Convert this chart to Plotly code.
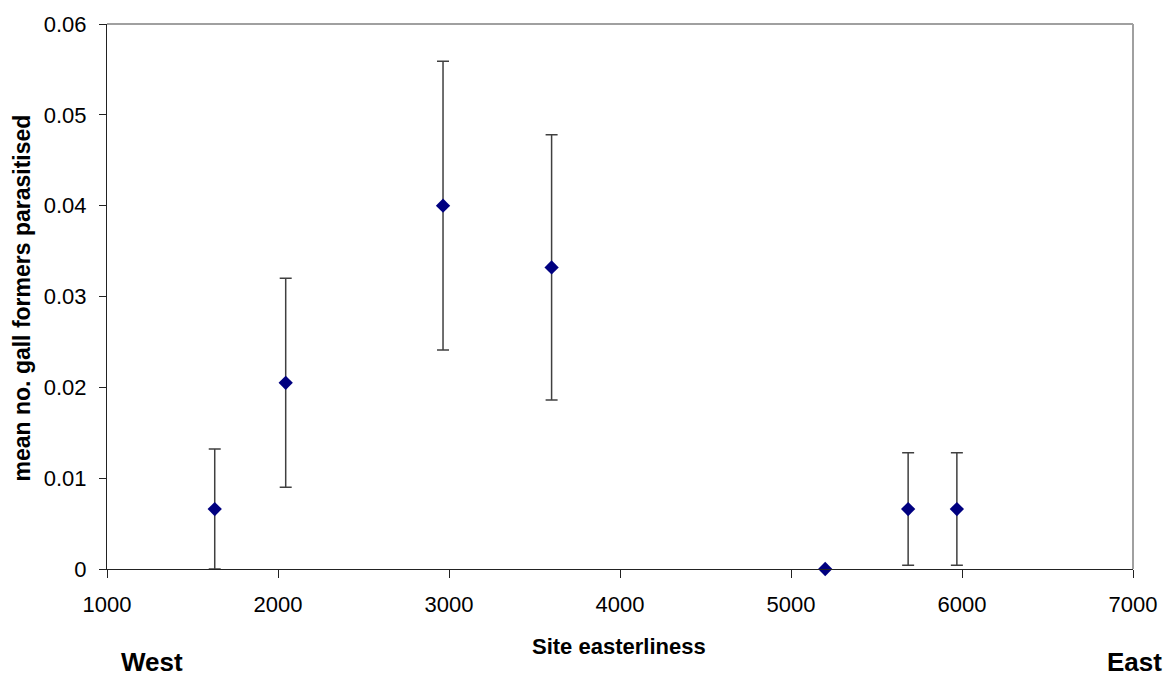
import plotly.graph_objects as go

# Data
site_easterliness = [1630, 2045, 2965, 3600, 5200, 5685, 5970]
mean_parasitised = [0.0066, 0.0205, 0.0400, 0.0332, 0.0, 0.0066, 0.0066]
error = [0.0066, 0.0115, 0.0159, 0.0146, 0.0, 0.0062, 0.0062]

x_ticks = [1000, 2000, 3000, 4000, 5000, 6000, 7000]
x_ticktext = ["1000", "2000", "3000", "4000", "5000", "6000", "7000"]
y_ticks = [0, 0.01, 0.02, 0.03, 0.04, 0.05, 0.06]
y_ticktext = ["0", "0.01", "0.02", "0.03", "0.04", "0.05", "0.06"]

FONT = "Liberation Sans, Arial, sans-serif"

fig = go.Figure()
fig.add_trace(go.Scatter(
    x=site_easterliness, y=mean_parasitised, mode="markers",
    marker=dict(symbol="diamond", size=11, color="#000080"),
    error_y=dict(type="data", array=error, visible=True,
                 color="#404040", thickness=1.5, width=6),
    showlegend=False, cliponaxis=False,
))

W, H = 1175, 679
L, R, T, B = 107, 42, 17, 110
pw, ph = W - L - R, H - T - B

def px(xp):
    return (xp - L) / pw

def py(yp):
    return (H - B - yp) / ph

fig.update_layout(
    width=W, height=H,
    margin=dict(l=L, r=R, t=T, b=B),
    paper_bgcolor="white", plot_bgcolor="white",
    font=dict(family=FONT, size=22, color="black"),
    xaxis=dict(range=[1000, 7000], tickvals=x_ticks, ticktext=x_ticktext,
               showgrid=False, zeroline=False, showline=True,
               linecolor="#222", linewidth=1, ticks="outside", ticklen=8,
               tickcolor="#222", tickwidth=1, ticklabelstandoff=8,
               tickfont=dict(size=22, family=FONT)),
    yaxis=dict(range=[0, 0.06], tickvals=y_ticks, ticktext=y_ticktext,
               showgrid=False, zeroline=False, showline=True,
               linecolor="#222", linewidth=1, ticks="outside", ticklen=7,
               tickcolor="#222", tickwidth=1, ticklabelstandoff=8,
               tickfont=dict(size=22, family=FONT)),
    shapes=[
        dict(type="line", xref="paper", yref="paper", x0=0, x1=1, y0=1, y1=1,
             line=dict(color="#a0a0a0", width=2)),
        dict(type="line", xref="paper", yref="paper", x0=1, x1=1, y0=0, y1=1,
             line=dict(color="#a0a0a0", width=2)),
    ],
    annotations=[
        dict(text="<b>Site easterliness</b>", xref="paper", yref="paper",
             x=px(619), y=py(647), showarrow=False, xanchor="center",
             yanchor="middle", font=dict(size=22, family=FONT)),
        dict(text="<b>mean no. gall formers parasitised</b>", xref="paper",
             yref="paper", x=px(22), y=py(295), showarrow=False,
             textangle=-90, xanchor="center", yanchor="middle",
             font=dict(size=23, family=FONT)),
        dict(text="<b>West</b>", xref="paper", yref="paper",
             x=px(152), y=py(663), showarrow=False, xanchor="center",
             yanchor="middle", font=dict(size=26, family=FONT)),
        dict(text="<b>East</b>", xref="paper", yref="paper",
             x=px(1134), y=py(663), showarrow=False, xanchor="center",
             yanchor="middle", font=dict(size=26, family=FONT)),
    ],
)

fig.write_html("out.html")
